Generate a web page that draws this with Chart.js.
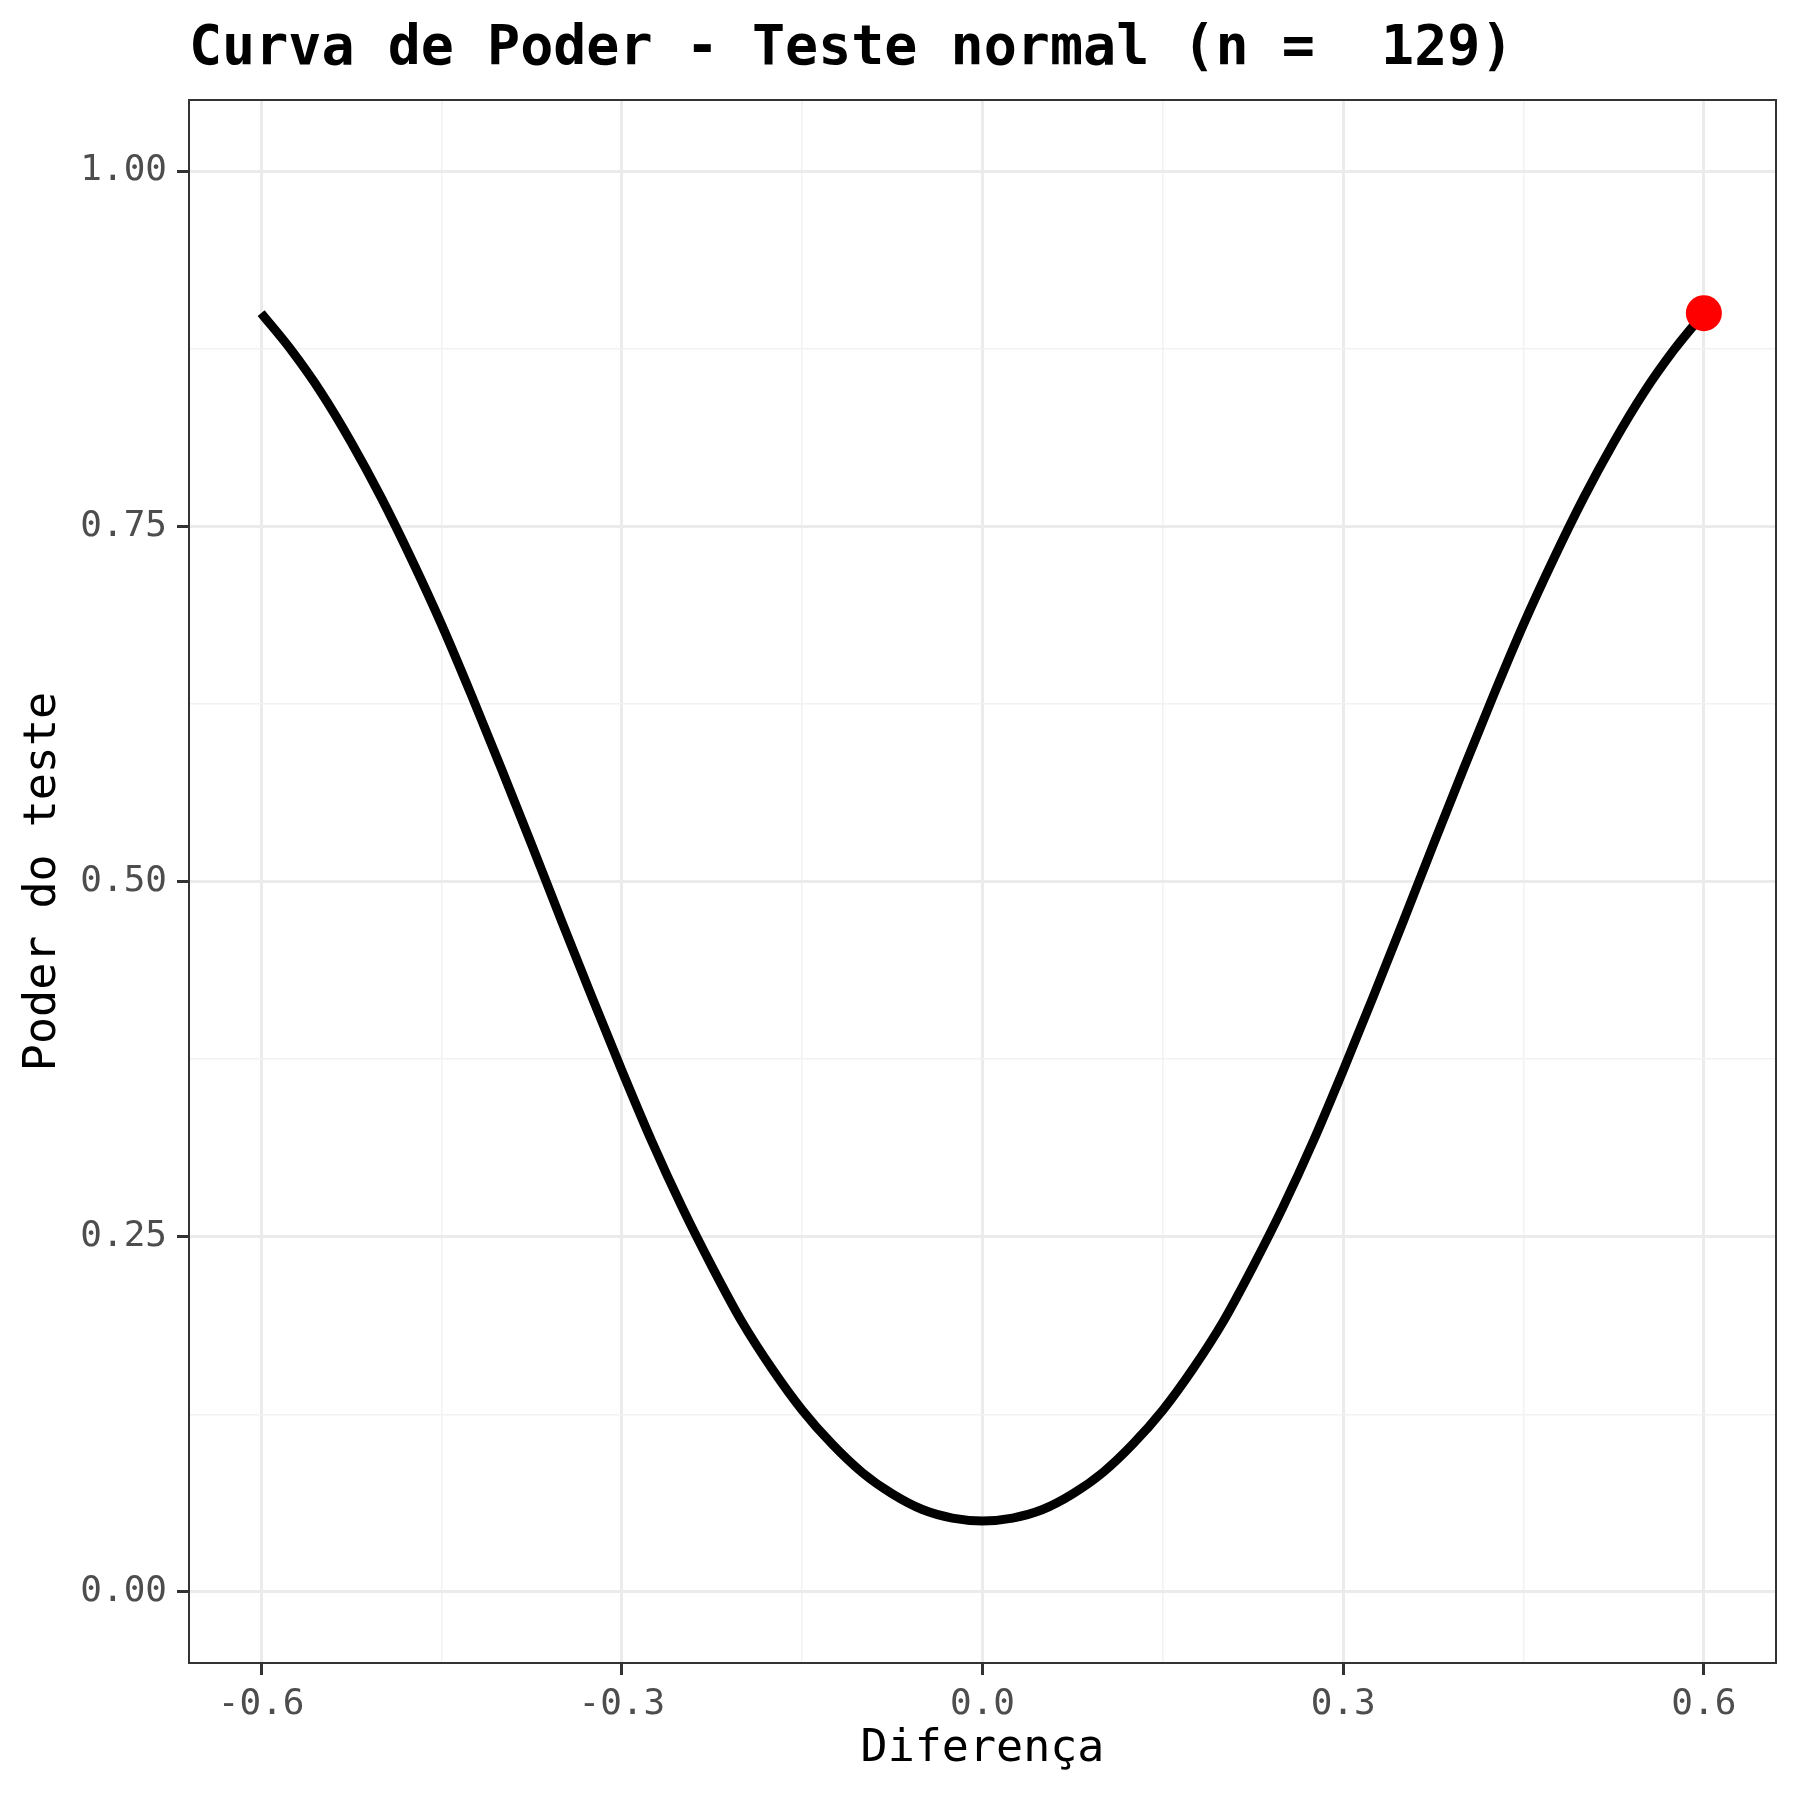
<!DOCTYPE html>
<html>
<head>
<meta charset="utf-8">
<script src="https://cdn.jsdelivr.net/npm/chart.js@4.4.1/dist/chart.umd.min.js"></script>
<style>
  html, body { margin: 0; padding: 0; background: #ffffff; }
  #wrap { width: 1800px; height: 1800px; }
</style>
</head>
<body>
<div id="wrap"><canvas id="chart" width="1800" height="1800"></canvas></div>
<script>
// values
const diffs = [-0.6, -0.575, -0.55, -0.525, -0.5, -0.475, -0.45, -0.425, -0.4, -0.375,
  -0.35, -0.325, -0.3, -0.275, -0.25, -0.225, -0.2, -0.175, -0.15, -0.125, -0.1, -0.075,
  -0.05, -0.025, 0, 0.025, 0.05, 0.075, 0.1, 0.125, 0.15, 0.175, 0.2, 0.225, 0.25, 0.275,
  0.3, 0.325, 0.35, 0.375, 0.4, 0.425, 0.45, 0.475, 0.5, 0.525, 0.55, 0.575, 0.6];
const power = [0.900, 0.874, 0.844, 0.809, 0.770, 0.727, 0.681, 0.631, 0.579, 0.526,
  0.472, 0.419, 0.367, 0.317, 0.271, 0.229, 0.190, 0.157, 0.128, 0.104, 0.084, 0.069,
  0.058, 0.052, 0.050, 0.052, 0.058, 0.069, 0.084, 0.104, 0.128, 0.157, 0.190, 0.229, 0.271, 0.317,
  0.367, 0.419, 0.472, 0.526, 0.579, 0.631, 0.681, 0.727, 0.770, 0.809, 0.844, 0.874, 0.900];
const markX = [0.6];
const markY = [0.900];

const xTicks = [-0.6, -0.45, -0.3, -0.15, 0, 0.15, 0.3, 0.45, 0.6];
const yTicks = [0, 0.125, 0.25, 0.375, 0.5, 0.625, 0.75, 0.875, 1];

const titleText = "Curva de Poder - Teste normal (n =  129)";
const FONT = "'DejaVu Sans Mono', monospace";

function isMajor(v, step) {
  const r = v / step;
  return Math.abs(r - Math.round(r)) < 1e-6;
}

const panelBorder = {
  id: "panelBorder",
  afterDraw(chart) {
    const { ctx, chartArea: a } = chart;
    ctx.save();
    ctx.strokeStyle = "#333333";
    ctx.lineWidth = 2;
    ctx.strokeRect(a.left, a.top, a.right - a.left, a.bottom - a.top);
    ctx.restore();
  },
};

function gridOpts(step) {
  return {
    color: (c) => (c.tick && isMajor(c.tick.value, step) ? "#EBEBEB" : "#F2F2F2"),
    lineWidth: (c) => (c.tick && isMajor(c.tick.value, step) ? 3 : 1.5),
    tickColor: (c) => (c.tick && isMajor(c.tick.value, step) ? "#333333" : "rgba(0,0,0,0)"),
    tickWidth: 3,
    tickLength: 12,
    drawTicks: true,
  };
}

const ctx = document.getElementById("chart").getContext("2d");
new Chart(ctx, {
  type: "line",
  data: {
    datasets: [
      {
        label: "poder",
        data: diffs.map((d, i) => ({ x: d, y: power[i] })),
        borderColor: "#000000",
        borderWidth: 9,
        pointRadius: 0,
        fill: false,
        cubicInterpolationMode: "monotone",
        order: 2,
      },
      {
        label: "ponto",
        data: markX.map((d, i) => ({ x: d, y: markY[i] })),
        showLine: false,
        pointRadius: 18,
        pointBackgroundColor: "#FF0000",
        pointBorderWidth: 0,
        order: 1,
      },
    ],
  },
  options: {
    responsive: false,
    devicePixelRatio: 1,
    animation: false,
    layout: { padding: { left: 0, right: 24, top: 0, bottom: 0 } },
    plugins: {
      legend: { display: false },
      tooltip: { enabled: false },
      title: {
        display: true,
        text: titleText,
        align: "start",
        fullSize: false,
        color: "#000000",
        font: { family: FONT, size: 55, weight: "bold", lineHeight: 1.2 },
        padding: { top: 17, bottom: 17 },
      },
    },
    scales: {
      x: {
        type: "linear",
        min: -0.66,
        max: 0.66,
        afterBuildTicks: (s) => { s.ticks = xTicks.map((v) => ({ value: v })); },
        afterFit: (s) => { s.height = 137; },
        border: { display: false },
        grid: gridOpts(0.3),
        ticks: {
          autoSkip: false,
          maxRotation: 0,
          padding: 8,
          color: "#4D4D4D",
          font: { family: FONT, size: 36 },
          callback: (v) => (isMajor(v, 0.3) ? v.toFixed(1) : ""),
        },
        title: {
          display: true,
          text: "Diferença",
          color: "#000000",
          font: { family: FONT, size: 45, lineHeight: 1.2 },
          padding: { top: 0, bottom: 24 },
        },
      },
      y: {
        type: "linear",
        min: -0.05,
        max: 1.05,
        afterBuildTicks: (s) => { s.ticks = yTicks.map((v) => ({ value: v })); },
        afterFit: (s) => { s.width = 189; },
        border: { display: false },
        grid: gridOpts(0.25),
        ticks: {
          autoSkip: false,
          padding: 10,
          color: "#4D4D4D",
          font: { family: FONT, size: 36 },
          callback: (v) => (isMajor(v, 0.25) ? v.toFixed(2) : ""),
        },
        title: {
          display: true,
          text: "Poder do teste",
          color: "#000000",
          font: { family: FONT, size: 45, lineHeight: 1.2 },
          padding: { top: 16, bottom: 0 },
        },
      },
    },
  },
  plugins: [panelBorder],
});
</script>
</body>
</html>
